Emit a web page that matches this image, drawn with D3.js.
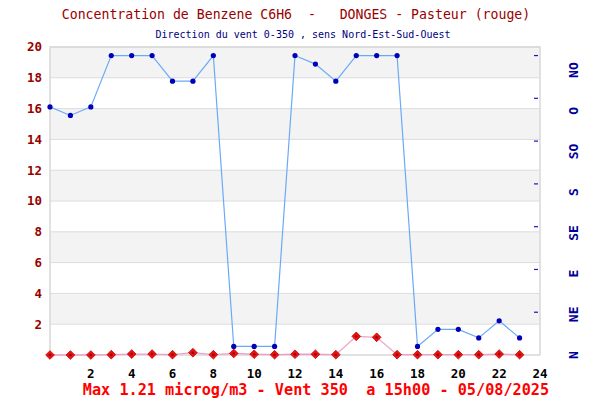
<!DOCTYPE html>
<html><head><meta charset="utf-8">
<script src="https://cdn.jsdelivr.net/npm/d3@7"></script>
<style>body{margin:0;background:#fff}svg{display:block}</style>
</head><body>
<svg id="c" width="600" height="400"></svg>
<script>
const hours = d3.range(0, 24);
const benzene = [0,0,0,0.02,0.06,0.06,0.02,0.15,0.02,0.1,0.05,0.02,0.05,0.05,0.02,1.21,1.15,0.02,0.02,0.02,0.02,0.02,0.06,0.02];
const windDir = [290,280,290,350,350,350,320,320,350,10,10,10,350,340,320,350,350,350,10,30,30,20,40,20];
const leftTicks = [2,4,6,8,10,12,14,16,18,20];
const xTicks = [2,4,6,8,10,12,14,16,18,20,22,24];
const rightTicks = [50,100,150,200,250,300,350];
const dirLabels = ["N","NE","E","SE","S","SO","O","NO"];
const title = "Concentration de Benzene C6H6  -   DONGES - Pasteur (rouge)";
const subtitle = "Direction du vent 0-350 , sens Nord-Est-Sud-Ouest";
const footer = "Max 1.21 microg/m3 - Vent 350  a 15h00 - 05/08/2025";

const svg = d3.select("#c");
const m = {l:50, r:60, t:47, b:45};
const W = 600 - m.l - m.r, H = 400 - m.t - m.b;
const g = svg.append("g").attr("transform", `translate(${m.l},${m.t})`);
const x = d3.scaleLinear().domain([0,24]).range([0,W]);
const y = d3.scaleLinear().domain([0,20]).range([H,0]);
const yr = d3.scaleLinear().domain([0,360]).range([H,0]);
const mono = "'DejaVu Sans Mono', 'Liberation Mono', monospace";

// bands
const bands = [[2,4],[6,8],[10,12],[14,16],[18,20]];
g.selectAll("rect.band").data(bands).enter().append("rect")
  .attr("x",0).attr("width",W).attr("y",d=>y(d[1])).attr("height",d=>y(d[0])-y(d[1]))
  .attr("fill","#f3f3f3");
g.selectAll("line.grid").data(leftTicks).enter().append("line")
  .attr("x1",0).attr("x2",W).attr("y1",d=>y(d)).attr("y2",d=>y(d))
  .attr("stroke","#dcdcdc").attr("stroke-width",1);
g.append("rect").attr("x",0).attr("y",0).attr("width",W).attr("height",H)
  .attr("fill","none").attr("stroke","#d8d8d8").attr("stroke-width",1.5);

// left axis labels
g.selectAll("text.yl").data(leftTicks).enter().append("text")
  .attr("x",-8).attr("y",d=>y(d)).attr("dy","0.35em").attr("text-anchor","end")
  .attr("font-family",mono).attr("font-weight","bold").attr("font-size",12.5)
  .attr("fill","#990000").text(d=>d);
// x labels
g.selectAll("text.xl").data(xTicks).enter().append("text")
  .attr("x",d=>x(d)).attr("y",H+23).attr("text-anchor","middle")
  .attr("font-family",mono).attr("font-weight","bold").attr("font-size",12.5)
  .attr("fill","#000").text(d=>d);
// right ticks
g.selectAll("line.rt").data(rightTicks).enter().append("line")
  .attr("x1",W-6).attr("x2",W-2).attr("y1",d=>yr(d)).attr("y2",d=>yr(d))
  .attr("stroke","#1a1aaa").attr("stroke-width",1.2);
// direction labels
const dirPos = d3.scaleLinear().domain([0, dirLabels.length-1]).range([0,333]);
g.selectAll("text.dl").data(dirLabels).enter().append("text")
  .attr("transform",(d,i)=>`translate(${W+33},${yr(dirPos(i))}) rotate(-90)`)
  .attr("text-anchor","middle").attr("dy","0.35em")
  .attr("font-family",mono).attr("font-weight","bold").attr("font-size",13)
  .attr("fill","#000099").text(d=>d);

// wind line
const lw = d3.line().x((d,i)=>x(hours[i])).y(d=>yr(d));
g.append("path").datum(windDir).attr("d",lw).attr("fill","none")
  .attr("stroke","#6aaaf5").attr("stroke-width",1.2);
g.selectAll("circle.w").data(windDir).enter().append("circle")
  .attr("cx",(d,i)=>x(hours[i])).attr("cy",d=>yr(d)).attr("r",2.6).attr("fill","#0000bb");

// benzene line
const lb = d3.line().x((d,i)=>x(hours[i])).y(d=>y(d));
g.append("path").datum(benzene).attr("d",lb).attr("fill","none")
  .attr("stroke","#f0a0c8").attr("stroke-width",1.3);
const dia = d3.symbol().type(d3.symbolDiamond2).size(48);
g.selectAll("path.b").data(benzene).enter().append("path")
  .attr("transform",(d,i)=>`translate(${x(hours[i])},${y(d)})`)
  .attr("d",dia).attr("fill","#ee1111").attr("stroke","#bb0000").attr("stroke-width",0.8);
g.selectAll("circle.bc").data(benzene).enter().append("circle")
  .attr("cx",(d,i)=>x(hours[i])).attr("cy",d=>y(d)).attr("r",1.3).attr("fill","#990000");

// texts
svg.append("text").attr("x",296).attr("y",19).attr("text-anchor","middle")
  .attr("font-family",mono).attr("font-size",13.2).attr("fill","#990000").style("white-space","pre").text(title);
svg.append("text").attr("x",303).attr("y",38).attr("text-anchor","middle")
  .attr("font-family",mono).attr("font-size",10).attr("fill","#000080").text(subtitle);
svg.append("text").attr("x",316).attr("y",395).attr("text-anchor","middle")
  .attr("font-family",mono).attr("font-weight","bold").attr("font-size",15.2)
  .attr("fill","#ff0000").style("white-space","pre").text(footer);
</script>
</body></html>
